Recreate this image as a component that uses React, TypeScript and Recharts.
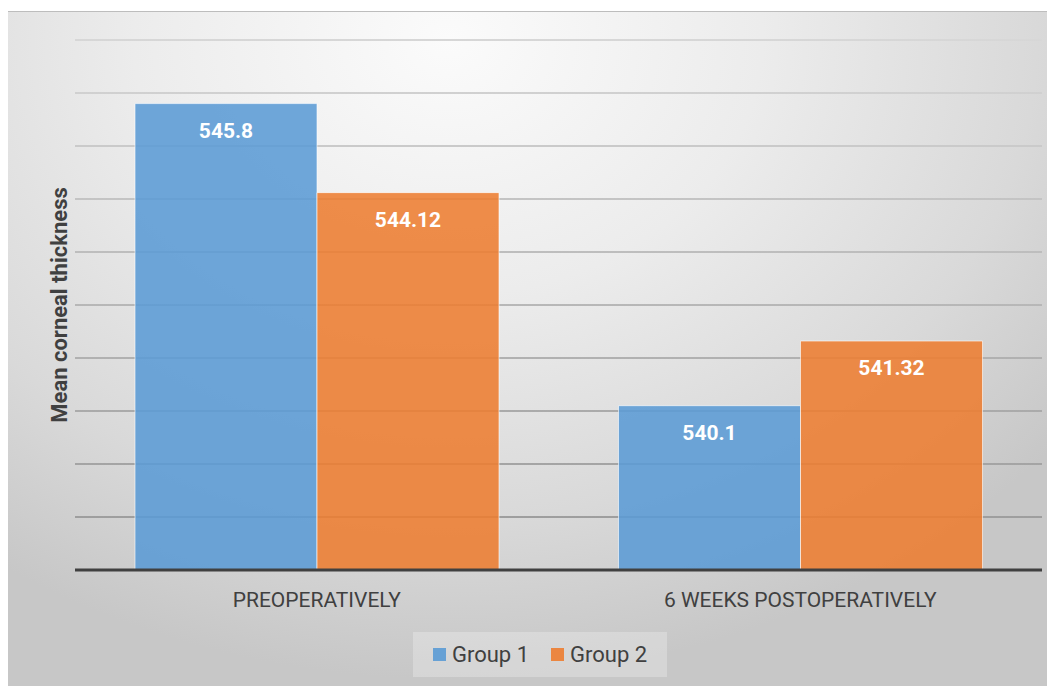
import { Bar, BarChart, CartesianGrid, LabelList, Legend, XAxis, YAxis } from "recharts";

const periods = ["PREOPERATIVELY", "6 WEEKS POSTOPERATIVELY"];
const group1 = [545.8, 540.1];
const group2 = [544.12, 541.32];
const yTicks = [537, 538, 539, 540, 541, 542, 543, 544, 545, 546, 547];

const data = periods.map((p, i) => ({ period: p, g1: group1[i], g2: group2[i] }));

const BLUE = "#5B9BD5";
const ORANGE = "#ED7D31";
const TEXT = "#404040";

function LegendBox() {
  const items = [
    { name: "Group 1", color: BLUE },
    { name: "Group 2", color: ORANGE },
  ];
  return (
    <div
      style={{
        display: "flex",
        alignItems: "center",
        justifyContent: "center",
        gap: 22,
        height: 45,
        background: "rgba(255,255,255,0.25)",
        fontFamily: "Roboto, sans-serif",
        fontSize: 22,
        color: TEXT,
      }}
    >
      {items.map((it) => (
        <span key={it.name} style={{ display: "flex", alignItems: "center", gap: 6 }}>
          <span style={{ width: 13, height: 13, background: it.color, opacity: 0.9, display: "inline-block" }} />
          {it.name}
        </span>
      ))}
    </div>
  );
}

export default function App() {
  return (
    <div
      style={{
        position: "relative",
        width: 1047,
        height: 675,
        marginTop: 3,
        borderTop: "1px solid #bdbdbd",
        boxSizing: "border-box",
        background: "radial-gradient(ellipse 75% 95% at 42% 4%, #fbfbfb 0%, #ececec 40%, #d9d9d9 75%, #c7c7c7 100%)",
      }}
    >
      <BarChart
        width={1047}
        height={674}
        data={data}
        margin={{ top: 28, right: 13, left: 0, bottom: 9 }}
        barCategoryGap={60}
        barGap={0}
      >
        <defs>
          <linearGradient id="gridStroke" gradientUnits="userSpaceOnUse" x1="0" y1="0" x2="0" y2="674">
            <stop offset="0%" stopColor="#dadada" />
            <stop offset="100%" stopColor="#8a8a8a" />
          </linearGradient>
        </defs>
        <CartesianGrid vertical={false} stroke="url(#gridStroke)" strokeWidth={2} />
        <XAxis
          dataKey="period"
          height={62}
          tickLine={false}
          tickSize={0}
          tickMargin={22}
          axisLine={{ stroke: "#404040", strokeWidth: 3 }}
          tick={{ fill: TEXT, fontSize: 21, fontFamily: "Roboto, sans-serif" }}
        />
        <YAxis
          width={67}
          domain={[537, 547]}
          ticks={yTicks}
          tickFormatter={() => ""}
          tickLine={false}
          axisLine={false}
          label={{
            content: (props: any) => {
              const vb = props.viewBox || {};
              const cx = vb.x + vb.width - 16;
              const cy = vb.y + vb.height / 2;
              return (
                <text
                  x={cx}
                  y={cy}
                  transform={`rotate(-90 ${cx} ${cy})`}
                  textAnchor="middle"
                  dominantBaseline="central"
                  fill={TEXT}
                  fontSize={22}
                  fontWeight="bold"
                  fontFamily="Roboto, sans-serif"
                >
                  Mean corneal thickness
                </text>
              );
            },
          }}
        />
        <Legend
          verticalAlign="bottom"
          wrapperStyle={{ left: 405, width: 254 }}
          content={() => <LegendBox />}
        />
        <Bar dataKey="g1" name="Group 1" fill={BLUE} fillOpacity={0.88} stroke="#ffffff" strokeOpacity={0.6} strokeWidth={1} isAnimationActive={false}>
          <LabelList dataKey="g1" position="insideTop" offset={19} fill="#ffffff" fontSize={21} fontWeight="bold" fontFamily="Roboto, sans-serif" />
        </Bar>
        <Bar dataKey="g2" name="Group 2" fill={ORANGE} fillOpacity={0.88} stroke="#ffffff" strokeOpacity={0.6} strokeWidth={1} isAnimationActive={false}>
          <LabelList dataKey="g2" position="insideTop" offset={19} fill="#ffffff" fontSize={21} fontWeight="bold" fontFamily="Roboto, sans-serif" />
        </Bar>
      </BarChart>
    </div>
  );
}
